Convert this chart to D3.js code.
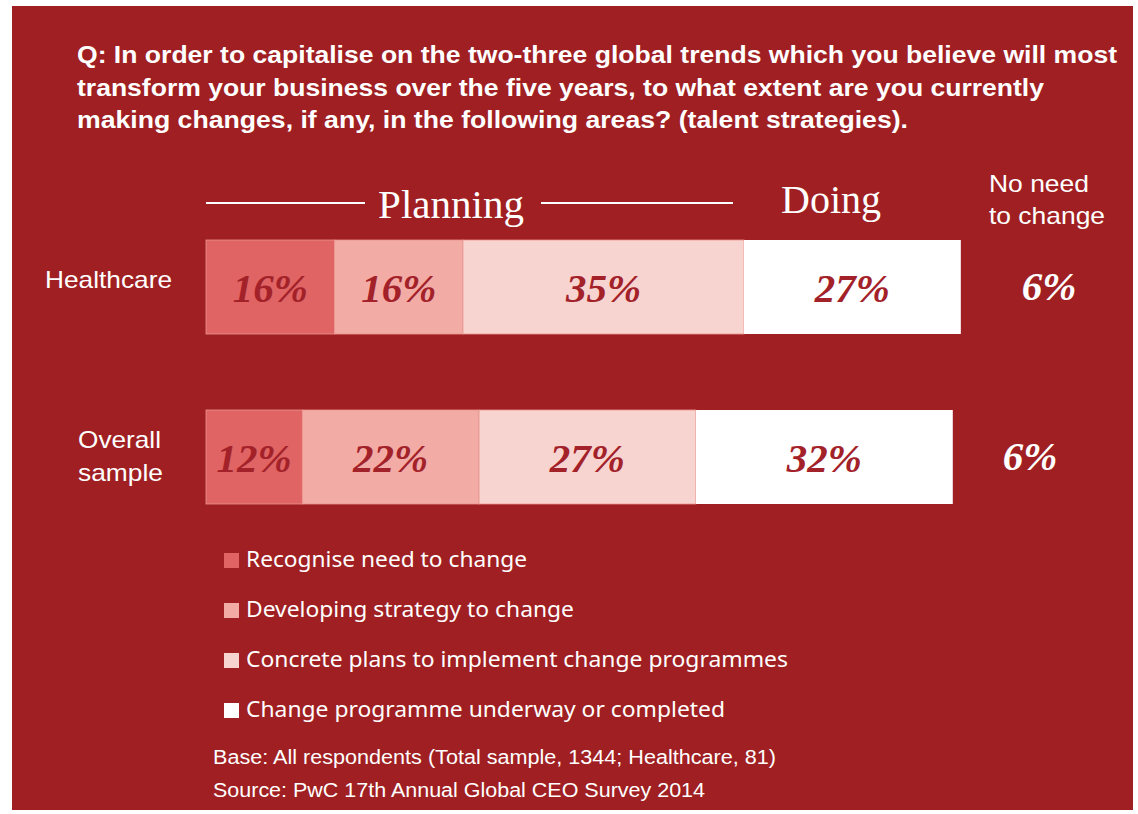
<!DOCTYPE html>
<html>
<head>
<meta charset="utf-8">
<script src="https://cdn.jsdelivr.net/npm/d3@7"></script>
<style>
  body { margin: 0; background: #fff; }
  svg { display: block; }
</style>
</head>
<body>
<div id="chart"></div>
<script>
// data
const categories = ["Healthcare", "Overall sample"];
const stages = [
  "Recognise need to change",
  "Developing strategy to change",
  "Concrete plans to implement change programmes",
  "Change programme underway or completed"
];
const recognise = [16, 12];
const developing = [16, 22];
const concrete = [35, 27];
const underway = [27, 32];
const noNeed = [6, 6];

const titleLines = [
  "Q: In order to capitalise on the two-three global trends which you believe will most",
  "transform your business over the five years, to what extent are you currently",
  "making changes, if any, in the following areas? (talent strategies)."
];
const footLines = [
  "Base: All respondents (Total sample, 1344; Healthcare, 81)",
  "Source: PwC 17th Annual Global CEO Survey 2014"
];

const width = 1138, height = 814;
const bg = "#a01f22";
const colors = ["#e06464", "#f2aca5", "#f8d4d0", "#ffffff"];
const sans = "Liberation Sans, Arial, sans-serif";
const serif = "Liberation Serif, Times New Roman, serif";

const svg = d3.select("#chart").append("svg")
  .attr("width", width)
  .attr("height", height);

svg.append("rect")
  .attr("x", 12).attr("y", 6)
  .attr("width", 1121).attr("height", 804)
  .attr("fill", bg);

// title (source font renders wider than Arial, so stretch to fit)
const titleW = [1040, 967, 831];
svg.append("g").selectAll("text").data(titleLines).join("text")
  .attr("x", 77)
  .attr("y", (d, i) => 63 + i * 32.5)
  .attr("fill", "#fff")
  .attr("font-family", sans)
  .attr("font-weight", "bold")
  .attr("font-size", 24)
  .attr("textLength", (d, i) => titleW[i])
  .attr("lengthAdjust", "spacingAndGlyphs")
  .text(d => d);

const x = d3.scaleLinear().domain([0, 100]).range([206, 1009]);
const y = d3.scaleBand().domain(categories).range([240, 504]).paddingInner(0.447);

// stacked rows
const rows = categories.map((c, i) => ({
  cat: c,
  vals: [recognise[i], developing[i], concrete[i], underway[i]]
}));

rows.forEach((row) => {
  let acc = 0;
  const segs = row.vals.map((v, k) => {
    const s = { x0: acc, x1: acc + v, v, k };
    acc += v;
    return s;
  });
  const g = svg.append("g");
  g.selectAll("rect").data(segs).join("rect")
    .attr("x", d => x(d.x0))
    .attr("y", y(row.cat))
    .attr("width", d => x(d.x1) - x(d.x0))
    .attr("height", y.bandwidth())
    .attr("fill", d => colors[d.k])
    .attr("stroke", d => d.k === 3 ? "none" : "#eb9590")
    .attr("stroke-width", 0.8);
  g.selectAll("text").data(segs).join("text")
    .attr("x", d => (x(d.x0) + x(d.x1)) / 2)
    .attr("y", y(row.cat) + y.bandwidth() / 2 + 15)
    .attr("text-anchor", "middle")
    .attr("fill", "#a3222a")
    .attr("font-family", serif)
    .attr("font-style", "italic")
    .attr("font-weight", "bold")
    .attr("font-size", 41)
    .text(d => d.v + "%");
});

// no need to change values
const noNeedX = [1049, 1030];
svg.append("g").selectAll("text").data(noNeed).join("text")
  .attr("x", (d, i) => noNeedX[i])
  .attr("y", (d, i) => y(categories[i]) + y.bandwidth() / 2 + 13)
  .attr("text-anchor", "middle")
  .attr("fill", "#fff")
  .attr("font-family", serif)
  .attr("font-style", "italic")
  .attr("font-weight", "bold")
  .attr("font-size", 41)
  .text(d => d + "%");

// row labels
svg.append("text").attr("x", 45).attr("y", 288)
  .attr("fill", "#fff").attr("font-family", sans).attr("font-size", 24)
  .attr("textLength", 127).attr("lengthAdjust", "spacingAndGlyphs")
  .text(categories[0]);
const ov = svg.append("text").attr("fill", "#fff").attr("font-family", sans).attr("font-size", 24);
ov.append("tspan").attr("x", 78).attr("y", 448)
  .attr("textLength", 83).attr("lengthAdjust", "spacingAndGlyphs").text("Overall");
ov.append("tspan").attr("x", 78).attr("y", 481)
  .attr("textLength", 85).attr("lengthAdjust", "spacingAndGlyphs").text("sample");

// column headers
svg.append("text").attr("x", 451).attr("y", 218).attr("text-anchor", "middle")
  .attr("fill", "#fff").attr("font-family", serif).attr("font-size", 41)
  .text("Planning");
svg.append("line").attr("x1", 206).attr("x2", 365).attr("y1", 203).attr("y2", 203)
  .attr("stroke", "#fff").attr("stroke-width", 2);
svg.append("line").attr("x1", 541).attr("x2", 733).attr("y1", 203).attr("y2", 203)
  .attr("stroke", "#fff").attr("stroke-width", 2);
svg.append("text").attr("x", 831).attr("y", 213).attr("text-anchor", "middle")
  .attr("fill", "#fff").attr("font-family", serif).attr("font-size", 40)
  .text("Doing");
const nn = svg.append("text").attr("fill", "#fff").attr("font-family", sans).attr("font-size", 24);
nn.append("tspan").attr("x", 989).attr("y", 192)
  .attr("textLength", 100).attr("lengthAdjust", "spacingAndGlyphs").text("No need");
nn.append("tspan").attr("x", 989).attr("y", 224)
  .attr("textLength", 116).attr("lengthAdjust", "spacingAndGlyphs").text("to change");

// legend
const legW = [281, 328, 542, 479];
const leg = svg.append("g").selectAll("g").data(stages).join("g")
  .attr("transform", (d, i) => `translate(224, ${553 + i * 50})`);
leg.append("rect").attr("width", 15).attr("height", 15)
  .attr("fill", (d, i) => colors[i]);
leg.append("text").attr("x", 22).attr("y", 13.5)
  .attr("fill", "#fff")
  .attr("font-family", "Noto Sans, Open Sans, sans-serif")
  .attr("font-size", 22.5)
  .attr("textLength", (d, i) => legW[i])
  .attr("lengthAdjust", "spacingAndGlyphs")
  .text(d => d);

// footer
const footW = [563, 492];
svg.append("g").selectAll("text").data(footLines).join("text")
  .attr("x", 213)
  .attr("y", (d, i) => 764 + i * 33)
  .attr("fill", "#fff")
  .attr("font-family", sans)
  .attr("font-size", 20)
  .attr("textLength", (d, i) => footW[i])
  .attr("lengthAdjust", "spacingAndGlyphs")
  .text(d => d);
</script>
</body>
</html>
